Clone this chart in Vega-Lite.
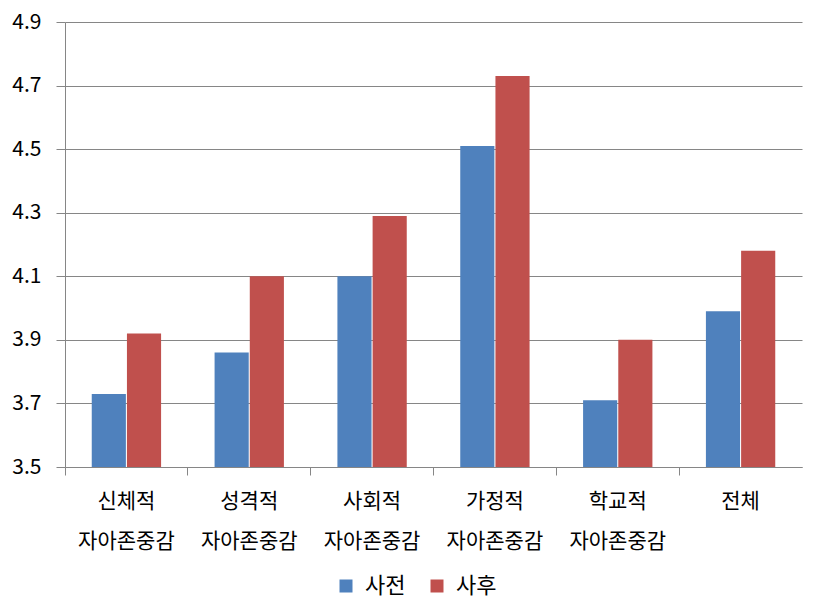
{
  "$schema": "https://vega.github.io/schema/vega-lite/v6.json",
  "width": 737,
  "height": 445,
  "autosize": {"type": "none"},
  "padding": {"left": 65, "top": 22, "right": 15, "bottom": 146},
  "background": "white",
  "config": {
    "view": {"stroke": null},
    "font": "Noto Sans CJK KR"
  },
  "data": {
    "values": [
      {"category": "신체적\n자아존중감", "group": "사전", "value": 3.73},
      {"category": "신체적\n자아존중감", "group": "사후", "value": 3.92},
      {"category": "성격적\n자아존중감", "group": "사전", "value": 3.86},
      {"category": "성격적\n자아존중감", "group": "사후", "value": 4.10},
      {"category": "사회적\n자아존중감", "group": "사전", "value": 4.10},
      {"category": "사회적\n자아존중감", "group": "사후", "value": 4.29},
      {"category": "가정적\n자아존중감", "group": "사전", "value": 4.51},
      {"category": "가정적\n자아존중감", "group": "사후", "value": 4.73},
      {"category": "학교적\n자아존중감", "group": "사전", "value": 3.71},
      {"category": "학교적\n자아존중감", "group": "사후", "value": 3.90},
      {"category": "전체", "group": "사전", "value": 3.99},
      {"category": "전체", "group": "사후", "value": 4.18}
    ]
  },
  "mark": {"type": "bar", "clip": true},
  "encoding": {
    "x": {
      "field": "category",
      "type": "nominal",
      "sort": null,
      "scale": {"paddingInner": 0, "paddingOuter": 0},
      "axis": {
        "title": null,
        "labelAngle": 0,
        "labelExpr": "split(datum.label, '\\n')",
        "labelFontSize": 21,
        "labelColor": "black",
        "labelLineHeight": 40,
        "labelPadding": 15,
        "labelBaseline": "top",
        "bandPosition": 0,
        "tickColor": "#868686",
        "tickSize": 8,
        "domainColor": "#868686",
        "grid": false
      }
    },
    "xOffset": {
      "field": "group",
      "scale": {"paddingInner": 0.03, "paddingOuter": 0.76}
    },
    "y": {
      "field": "value",
      "type": "quantitative",
      "scale": {"domain": [3.5, 4.9], "nice": false, "zero": false},
      "axis": {
        "title": null,
        "values": [3.5, 3.7, 3.9, 4.1, 4.3, 4.5, 4.7, 4.9],
        "format": ".1f",
        "labelFontSize": 21,
        "labelColor": "black",
        "labelPadding": 15,
        "tickSize": 9,
        "tickColor": "#868686",
        "domainColor": "#868686",
        "gridColor": "#868686",
        "grid": true
      }
    },
    "color": {
      "field": "group",
      "type": "nominal",
      "scale": {"domain": ["사전", "사후"], "range": ["#4F81BD", "#C0504D"]},
      "legend": {
        "title": null,
        "orient": "none",
        "legendX": 270,
        "legendY": 553,
        "direction": "horizontal",
        "symbolType": "square",
        "symbolSize": 169,
        "symbolStrokeWidth": 0,
        "labelFontSize": 22,
        "labelColor": "black",
        "labelOffset": 8,
        "columnPadding": 20
      }
    }
  }
}
